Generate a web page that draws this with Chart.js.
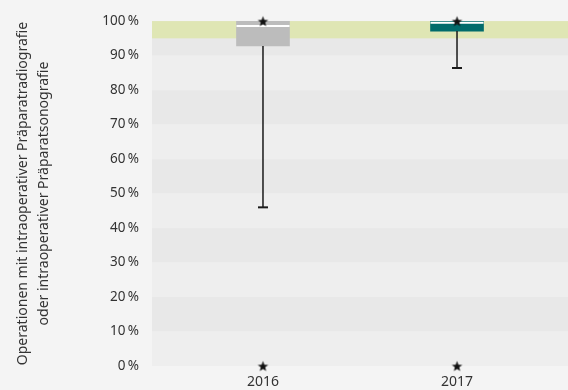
<!DOCTYPE html>
<html>
<head>
<meta charset="utf-8">
<script src="https://cdn.jsdelivr.net/npm/chart.js@4"></script>
<style>
html,body{margin:0;padding:0;background:#f4f4f4;}
#wrap{width:568px;height:390px;}
</style>
</head>
<body>
<div id="wrap"><canvas id="c" width="568" height="390"></canvas></div>
<script>
// ---- data ----
const years = ["2016", "2017"];
const whiskerMin = [46.0, 86.4];
const q1 = [92.8, 97.1];
const median = [98.6, 99.5];
const q3 = [100, 100];
const outliers = [[100, 0], [100, 0]];
const boxColors = ["#bcbcbc", "#006b6b"];
const yTicks = [0, 10, 20, 30, 40, 50, 60, 70, 80, 90, 100];
const yTitle = ["Operationen mit intraoperativer Präparatradiografie", "oder intraoperativer Präparatsonografie"];
const targetRange = [95, 100];

// ---- derived datasets ----
const boxData = years.map((y, i) => ({x: i, y: [q1[i], q3[i]]}));
const medianData = years.map((y, i) => ({x: i, y: median[i]}));
const capData = years.map((y, i) => ({x: i, y: whiskerMin[i]}));
const whiskerData = [];
years.forEach((y, i) => {
  whiskerData.push({x: i, y: q1[i]});
  whiskerData.push({x: i, y: whiskerMin[i]});
  whiskerData.push({x: i + 0.5, y: null});
});
const outlierData = [];
outliers.forEach((arr, i) => arr.forEach(v => outlierData.push({x: i, y: v})));

// star point style
function makeStar(r) {
  const c = document.createElement('canvas');
  const s = Math.ceil(r * 2 + 2);
  c.width = s; c.height = s;
  const g = c.getContext('2d');
  g.fillStyle = '#111';
  g.beginPath();
  for (let k = 0; k < 10; k++) {
    const rad = (k % 2 === 0) ? r : r * 0.42;
    const a = -Math.PI / 2 + k * Math.PI / 5;
    const px = s / 2 + rad * Math.cos(a), py = s / 2 + 0.6 + rad * Math.sin(a);
    if (k === 0) g.moveTo(px, py); else g.lineTo(px, py);
  }
  g.closePath();
  g.fill();
  return c;
}
const starImg = makeStar(5.5);

const bandPlugin = {
  id: 'bands',
  beforeDatasetsDraw(chart) {
    const {ctx, chartArea: a, scales: {y}} = chart;
    ctx.save();
    for (let i = 0; i < yTicks.length - 1; i++) {
      const lo = yTicks[i], hi = yTicks[i + 1];
      const top = y.getPixelForValue(hi), bot = y.getPixelForValue(lo);
      ctx.fillStyle = (i % 2 === 0) ? '#eeeeee' : '#e8e8e8';
      ctx.fillRect(a.left, top, a.right - a.left, bot - top);
    }
    const t = y.getPixelForValue(targetRange[1]), b = y.getPixelForValue(targetRange[0]);
    ctx.fillStyle = '#dfe6b4';
    ctx.fillRect(a.left, t, a.right - a.left, b - t);
    ctx.restore();
  }
};

Chart.defaults.font.family = "'Noto Sans', sans-serif";
Chart.defaults.color = '#333';

new Chart(document.getElementById('c'), {
  type: 'bar',
  plugins: [bandPlugin],
  data: {
    datasets: [
      {type: 'bar', data: boxData, backgroundColor: boxColors, borderWidth: 0, barThickness: 53, order: 5},
      {type: 'line', data: whiskerData, borderColor: '#1a1a1a', borderWidth: 1.5, pointRadius: 0, spanGaps: false, order: 4},
      {type: 'scatter', data: capData, pointStyle: 'line', radius: 5, borderColor: '#1a1a1a', borderWidth: 2, order: 3},
      {type: 'scatter', data: medianData, pointStyle: 'line', radius: 26.5, borderColor: '#ffffff', borderWidth: 2, order: 2},
      {type: 'scatter', data: outlierData, pointStyle: starImg, radius: 6, clip: false, order: 1}
    ]
  },
  options: {
    responsive: false,
    animation: false,
    devicePixelRatio: 1,
    layout: {autoPadding: false, padding: {left: 0, right: 0, top: 18, bottom: 0}},
    plugins: {legend: {display: false}, tooltip: {enabled: false}},
    scales: {
      x: {
        type: 'linear',
        offset: false,
        min: -0.572, max: 1.572,
        grid: {display: false, drawTicks: false},
        border: {display: false},
        afterBuildTicks(s) { s.ticks = years.map((y, i) => ({value: i})); },
        ticks: {callback: (v) => years[v], font: {size: 14}, padding: 8, color: '#333'},
        afterFit(s) { s.height = 24; }
      },
      y: {
        min: 0, max: 100,
        grid: {display: false, drawTicks: false},
        border: {display: false},
        afterBuildTicks(s) { s.ticks = yTicks.map(v => ({value: v})); },
        ticks: {callback: (v) => v + '\u202F%', font: {size: 13.5}, padding: 13, color: '#333'},
        title: {display: true, text: yTitle, font: {size: 14, lineHeight: 1.5}, color: '#333', padding: {top: 13, bottom: 0}},
        afterFit(s) { s.width = 152; }
      }
    }
  }
});
</script>
</body>
</html>
